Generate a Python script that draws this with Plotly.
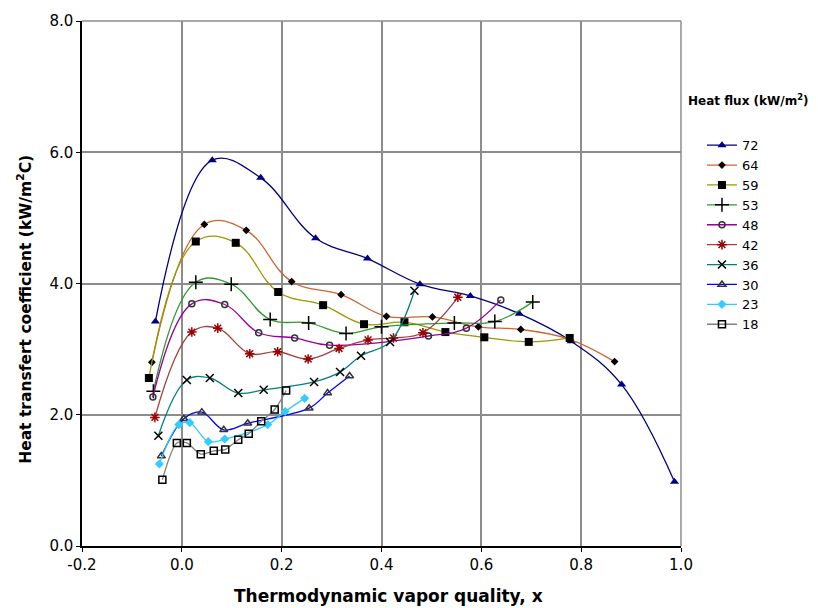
import plotly.graph_objects as go

# ---- data ----
names = ["72", "64", "59", "53", "48", "42", "36", "30", "23", "18"]

x72 = [-0.053, 0.061, 0.158, 0.268, 0.372, 0.477, 0.578, 0.676, 0.78, 0.881, 0.987]
y72 = [3.42, 5.88, 5.61, 4.69, 4.38, 3.99, 3.81, 3.54, 3.12, 2.46, 0.98]

x64 = [-0.06, 0.045, 0.129, 0.22, 0.319, 0.41, 0.502, 0.594, 0.679, 0.777, 0.867]
y64 = [2.80, 4.90, 4.81, 4.03, 3.83, 3.50, 3.49, 3.34, 3.30, 3.15, 2.81]

x59 = [-0.066, 0.028, 0.108, 0.193, 0.283, 0.365, 0.446, 0.528, 0.606, 0.695, 0.777]
y59 = [2.56, 4.64, 4.62, 3.87, 3.67, 3.38, 3.41, 3.26, 3.18, 3.11, 3.17]

x53 = [-0.057, 0.028, 0.099, 0.177, 0.254, 0.329, 0.40, 0.546, 0.627, 0.703]
y53 = [2.36, 4.02, 3.99, 3.45, 3.40, 3.24, 3.34, 3.40, 3.42, 3.72]

x48 = [-0.058, 0.02, 0.086, 0.154, 0.226, 0.296, 0.494, 0.57, 0.639]
y48 = [2.27, 3.69, 3.68, 3.25, 3.17, 3.06, 3.20, 3.32, 3.75]

x42 = [-0.054, 0.02, 0.072, 0.136, 0.192, 0.253, 0.315, 0.373, 0.424, 0.483, 0.553]
y42 = [1.96, 3.26, 3.32, 2.93, 2.96, 2.85, 3.01, 3.14, 3.17, 3.25, 3.79]

x36 = [-0.047, 0.01, 0.056, 0.113, 0.164, 0.265, 0.317, 0.359, 0.417, 0.466]
y36 = [1.68, 2.53, 2.56, 2.33, 2.38, 2.50, 2.65, 2.90, 3.11, 3.89]

x30 = [-0.041, 0.004, 0.04, 0.084, 0.132, 0.255, 0.292, 0.336]
y30 = [1.37, 1.94, 2.04, 1.77, 1.87, 2.10, 2.33, 2.59]

x23 = [-0.045, -0.006, 0.016, 0.053, 0.086, 0.172, 0.207, 0.246]
y23 = [1.25, 1.85, 1.88, 1.59, 1.63, 1.85, 2.05, 2.25]

x18 = [-0.039, -0.01, 0.01, 0.038, 0.064, 0.087, 0.113, 0.134, 0.159, 0.186, 0.209]
y18 = [1.01, 1.57, 1.57, 1.40, 1.45, 1.47, 1.62, 1.71, 1.90, 2.08, 2.37]

xs = [x72, x64, x59, x53, x48, x42, x36, x30, x23, x18]
ys = [y72, y64, y59, y53, y48, y42, y36, y30, y23, y18]

x_ticks = [-0.2, 0.0, 0.2, 0.4, 0.6, 0.8, 1.0]
y_ticks = [0.0, 2.0, 4.0, 6.0, 8.0]

# ---- styles ----
line_colors = ["#000080", "#CC6633", "#999900", "#339933", "#990099",
               "#A04040", "#008080", "#0000FF", "#33CCFF", "#808080"]
symbols = ["triangle-up", "diamond", "square", "cross-thin-open", "circle-open",
           "asterisk-open", "x-thin-open", "triangle-up-open", "diamond", "square-open"]
m_colors = ["#000080", "#000000", "#000000", "#000000", "#333333",
            "#990000", "#000000", "#333333", "#33CCFF", "#000000"]
m_sizes = [8, 6, 8, 10, 6, 8, 8, 7, 7, 7]
smooth = [1.1, 1.15, 1.15, 1.15, 1.15, 1.1, 1.1, 1.0, 1.0, 0.8]

fig = go.Figure()
for name, x, y, lc, sym, mc, ms, sm in zip(names, xs, ys, line_colors, symbols, m_colors, m_sizes, smooth):
    open_sym = sym.endswith("open")
    marker = dict(symbol=sym, size=ms, color=mc,
                  line=dict(color=mc, width=1.5 if open_sym else 0))
    fig.add_trace(go.Scatter(
        x=x, y=y, name=name, mode="lines+markers",
        line=dict(color=lc, width=1.3, shape="spline", smoothing=sm),
        marker=marker,
    ))

FONT = "DejaVu Sans, Arial, sans-serif"

fig.update_layout(
    width=818, height=608,
    margin=dict(l=82, r=137, t=19, b=62),
    paper_bgcolor="white", plot_bgcolor="white",
    font=dict(family=FONT, color="black", size=15),
    xaxis=dict(
        range=[-0.2, 1.0], tickvals=x_ticks, ticktext=[f"{v:.1f}" for v in x_ticks],
        showgrid=True, gridcolor="#8c8c8c", gridwidth=1.5,
        showline=True, linecolor="black", linewidth=1.5,
        ticks="outside", ticklen=4, tickcolor="black",
        zeroline=False, tickfont=dict(size=15),
    ),
    yaxis=dict(
        range=[0, 8.0], tickvals=y_ticks, ticktext=[f"{v:.1f}" for v in y_ticks],
        showgrid=True, gridcolor="#8c8c8c", gridwidth=1.5,
        showline=True, linecolor="black", linewidth=1.5,
        ticks="outside", ticklen=4, tickcolor="black",
        zeroline=False, tickfont=dict(size=15),
    ),
    legend=dict(
        x=1.035, y=0.792, xanchor="left", yanchor="top",
        font=dict(size=13), bgcolor="rgba(0,0,0,0)", tracegroupgap=0,
    ),
    showlegend=True,
    annotations=[
        dict(text="<b>Heat flux (kW/m<sup>2</sup>)</b>", xref="paper", yref="paper",
             x=1.008, y=0.85, xanchor="left", yanchor="middle", showarrow=False,
             font=dict(size=12)),
        dict(text="<b>Thermodynamic vapor quality, x</b>", xref="paper", yref="paper",
             x=0.511, y=-0.095, xanchor="center", yanchor="middle", showarrow=False,
             font=dict(size=17)),
        dict(text="<b>Heat transfert coefficient (kW/m<sup>2</sup>C)</b>", xref="paper", yref="paper",
             x=-0.095, y=0.45, xanchor="center", yanchor="middle", showarrow=False,
             textangle=-90, font=dict(size=15.5)),
    ],
    shapes=[
        dict(type="line", xref="paper", yref="paper", x0=0, x1=1, y0=1, y1=1,
             line=dict(color="#8c8c8c", width=1.5)),
        dict(type="line", xref="paper", yref="paper", x0=1, x1=1, y0=0, y1=1,
             line=dict(color="#8c8c8c", width=1.5)),
    ],
)

fig.write_html("out.html")
